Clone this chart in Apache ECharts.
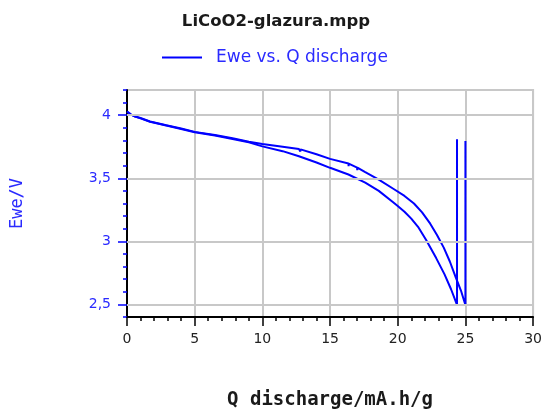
<!DOCTYPE html>
<html>
<head>
<meta charset="utf-8">
<script src="https://cdn.jsdelivr.net/npm/echarts@6/dist/echarts.min.js"></script>
<style>
  html, body { margin: 0; padding: 0; background: #fff; }
  #chart { width: 545px; height: 415px; }
</style>
</head>
<body>
<div id="chart"></div>
<script>
// cycle 1 (upper curve) - Q in mA.h/g, Ewe in V
const q1 = [0, 0.3, 0.6, 1, 1.7, 2.9, 4, 5, 6.5, 7.8, 9, 10, 11.5, 12.7, 12.8, 12.81, 12.82, 14, 15, 16.36, 16.37, 16.38, 17.0, 17.01, 17.02, 17.6, 18.6, 19.7, 20.5, 21.2, 21.8, 22.4, 22.9, 23.4, 23.85, 24.3, 24.67, 25.0, 25.0]
const e1 = [4.03, 4.005, 3.99, 3.978, 3.95, 3.92, 3.895, 3.868, 3.843, 3.818, 3.79, 3.771, 3.75, 3.732, 3.73, 3.712, 3.729, 3.69, 3.654, 3.617, 3.595, 3.616, 3.585, 3.565, 3.584, 3.548, 3.49, 3.415, 3.36, 3.30, 3.23, 3.14, 3.05, 2.95, 2.84, 2.71, 2.61, 2.495, 3.795]

// cycle 2 (lower curve)
const q2 = [0, 0.3, 0.6, 1, 1.7, 2.9, 4, 5, 6.5, 7.8, 9, 10, 11.5, 12.7, 14, 15, 16.36, 17.6, 18.6, 19.66, 20.0, 20.5, 21.0, 21.5, 22.1, 22.84, 23.45, 23.94, 24.31, 24.38, 24.38]
const e2 = [4.03, 4.005, 3.99, 3.975, 3.948, 3.918, 3.89, 3.865, 3.84, 3.812, 3.785, 3.753, 3.715, 3.675, 3.625, 3.583, 3.53, 3.466, 3.40, 3.31, 3.28, 3.235, 3.18, 3.115, 3.01, 2.867, 2.74, 2.62, 2.516, 2.495, 3.81]

const xTicks = [0, 5, 10, 15, 20, 25, 30]
const yMajor = [2.5, 3, 3.5, 4]

const seriesName = 'Ewe vs. Q discharge'
const blue = '#0000ff'
const labelBlue = '#2a2aff'

const chart = echarts.init(document.getElementById('chart'))

const pairs = (xs, ys) => xs.map((x, i) => [x, ys[i]])

chart.setOption({
  animation: false,
  backgroundColor: '#fff',
  title: {
    text: 'LiCoO2-glazura.mpp',
    left: 271,
    top: 8,
    textAlign: 'center',
    textStyle: { fontFamily: 'DejaVu Sans', fontSize: 16.5, fontWeight: 'bold', color: '#1a1a1a' }
  },
  legend: {
    data: [seriesName],
    icon: 'rect',
    left: 157,
    top: 44,
    itemWidth: 40,
    itemHeight: 2,
    textStyle: { fontFamily: 'DejaVu Sans', fontSize: 17, color: labelBlue, padding: [0, 0, 0, 9] }
  },
  grid: {
    left: 127,
    right: 9,
    top: 90,
    bottom: 95,
    show: true,
    borderColor: '#c8c8c8',
    borderWidth: 2
  },
  xAxis: {
    type: 'value',
    min: xTicks[0],
    max: xTicks[xTicks.length - 1],
    interval: 5,
    name: 'Q discharge/mA.h/g',
    nameLocation: 'middle',
    nameGap: 74,
    nameTextStyle: { fontFamily: 'DejaVu Sans Mono', fontSize: 19, fontWeight: 'bold', color: '#1a1a1a' },
    axisLine: { lineStyle: { color: '#000', width: 2 } },
    axisTick: { length: 9, lineStyle: { color: '#000', width: 1.5 } },
    minorTick: { show: true, splitNumber: 5, length: 4, lineStyle: { color: '#000', width: 1.5 } },
    axisLabel: { margin: 15, fontFamily: 'DejaVu Sans', fontSize: 14, color: '#222' },
    splitLine: { show: true, lineStyle: { color: '#c8c8c8', width: 2 } }
  },
  yAxis: [
    {
      type: 'value',
      min: 2.4,
      max: 4.2,
      interval: 0.1,
      position: 'left',
      axisLine: { show: true, lineStyle: { color: '#000', width: 2 } },
      axisTick: { show: true, length: 4, lineStyle: { color: blue, width: 1.5 } },
      axisLabel: { show: false },
      splitLine: { show: false }
    },
    {
      type: 'value',
      min: 2.4,
      max: 4.2,
      position: 'left',
      offset: 0,
      name: 'Ewe/V',
      nameLocation: 'middle',
      nameGap: 101,
      nameTextStyle: { fontFamily: 'DejaVu Sans Mono', fontSize: 17, color: labelBlue },
      axisLine: { show: false },
      axisTick: { show: true, customValues: yMajor, length: 9, lineStyle: { color: blue, width: 1.5 } },
      axisLabel: {
        customValues: yMajor,
        margin: 16,
        fontFamily: 'DejaVu Sans',
        fontSize: 14,
        color: labelBlue,
        formatter: v => String(v).replace('.', ',')
      },
      splitLine: { show: false }
    }
  ],
  series: [
    {
      // horizontal grid lines at the labelled values
      type: 'line',
      data: [],
      z: 1,
      silent: true,
      markLine: {
        silent: true,
        symbol: 'none',
        label: { show: false },
        lineStyle: { color: '#c8c8c8', width: 2, type: 'solid' },
        data: yMajor.map(v => ({ yAxis: v }))
      }
    },
    {
      name: seriesName,
      type: 'line',
      data: pairs(q1, e1),
      showSymbol: false,
      symbol: 'none',
      z: 3,
      lineStyle: { color: blue, width: 2 },
      itemStyle: { color: blue }
    },
    {
      name: seriesName,
      type: 'line',
      data: pairs(q2, e2),
      showSymbol: false,
      symbol: 'none',
      z: 3,
      lineStyle: { color: blue, width: 2 },
      itemStyle: { color: blue }
    }
  ]
})
</script>
</body>
</html>
